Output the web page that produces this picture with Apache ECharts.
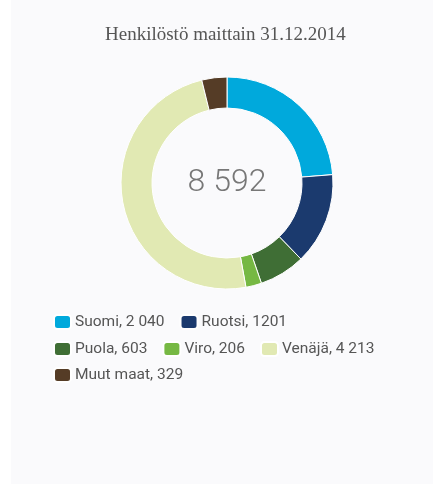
<!DOCTYPE html>
<html><head><meta charset="utf-8">
<script src="https://cdn.jsdelivr.net/npm/echarts@6/dist/echarts.min.js"></script>
<style>html,body{margin:0;padding:0;background:#fafafc}#c{width:433px;height:484px}</style>
</head><body><div id="c"></div>
<script>
var title = 'Henkilöstö maittain 31.12.2014';
var totalLabel = '8 592';
var categories = ['Suomi', 'Ruotsi', 'Puola', 'Viro', 'Venäjä', 'Muut maat'];
var values = [2040, 1201, 603, 206, 4213, 329];
var valueLabels = ['2 040', '1201', '603', '206', '4 213', '329'];
var colors = ['#00a9dc', '#1b3a6e', '#3f6e35', '#76b843', '#e1e9b3', '#553c26'];

var chart = echarts.init(document.getElementById('c'));
var data = categories.map(function (c, i) { return { name: c, value: values[i] }; });
function legendFmt(n) { var i = categories.indexOf(n); return n + ', ' + valueLabels[i]; }
function mkLegend(names, top) {
  return {
    data: names, left: 53, top: top, orient: 'horizontal', padding: 0,
    itemWidth: 17, itemHeight: 14, itemGap: 15,
    icon: 'roundRect', formatter: legendFmt, selectedMode: false,
    textStyle: { fontFamily: 'Roboto', fontSize: 15.5, color: '#555', padding: [0, 0, 0, -1] }
  };
}
chart.setOption({
  backgroundColor: '#fafafc',
  color: colors,
  graphic: [{ type: 'rect', left: 0, top: 0, shape: { width: 11, height: 484 }, style: { fill: '#ffffff' }, silent: true }],
  title: {
    text: title, left: 105, top: 26, padding: 0,
    textStyle: { fontFamily: 'Liberation Serif', fontSize: 19, fontWeight: 'normal', color: '#555' }
  },
  legend: [
    mkLegend(['Suomi', 'Ruotsi'], 314),
    mkLegend(['Puola', 'Viro', 'Venäjä'], 341),
    mkLegend(['Muut maat'], 367)
  ],
  series: [{
    type: 'pie', center: [227, 183], radius: [75, 106],
    startAngle: 90, clockwise: true, avoidLabelOverlap: false,
    label: {
      show: true, position: 'center', formatter: function () { return totalLabel; },
      fontFamily: 'Roboto', fontWeight: 300, fontSize: 32, color: '#777'
    },
    labelLine: { show: false },
    itemStyle: { borderColor: '#ffffff', borderWidth: 1 },
    emphasis: { disabled: true },
    data: data
  }]
});
</script></body></html>
